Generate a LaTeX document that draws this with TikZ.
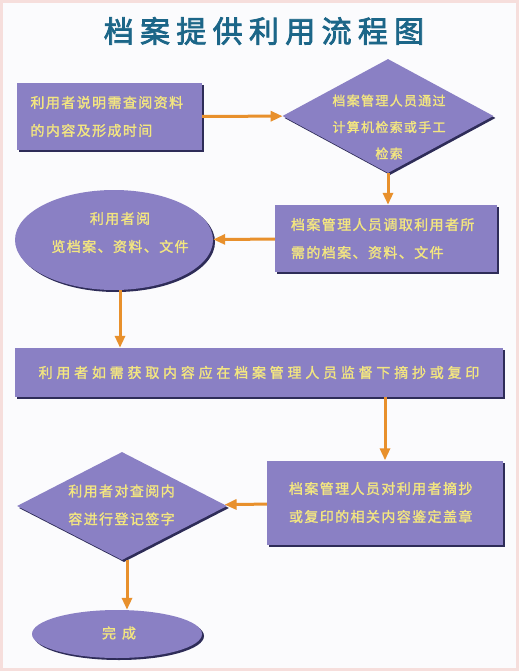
\documentclass[tikz,border=0pt]{standalone}
\usepackage{fontspec}
\usetikzlibrary{shapes.geometric,arrows.meta,shadows}
\newfontfamily\cjk{Noto Sans CJK SC}[LetterSpace=10, FakeBold=1.6]
\newfontfamily\cjkwide{Noto Sans CJK SC}[LetterSpace=27, FakeBold=1.6]
\newfontfamily\cjktitle{Noto Sans CJK SC}[LetterSpace=21, FakeBold=2.5]
\definecolor{boxfill}{HTML}{8A80C4}
\definecolor{boxedge}{HTML}{2E2C58}
\definecolor{wordcol}{HTML}{F3E680}
\definecolor{flowcol}{HTML}{E8902C}
\definecolor{titlecol}{HTML}{1C6688}
\definecolor{bgcol}{HTML}{FBFBFD}
\definecolor{rimcol}{HTML}{F6DEDC}

\begin{document}
\begin{tikzpicture}[x=1pt,y=-1pt,
  shape base/.style={fill=boxfill, inner sep=0pt,
    drop shadow={shadow xshift=2pt, shadow yshift=-2pt, fill=boxedge, opacity=1}},
  box/.style={shape base, rectangle},
  oval/.style={shape base, ellipse},
  rhomb/.style={shape base, diamond},
  words/.style={text=wordcol, font=\cjk\fontsize{14}{28}\selectfont, align=left},
  flow/.style={draw=flowcol, line width=3pt, -{Triangle[length=12pt,width=10pt]}}]
  \fill[bgcol] (0,0) rectangle (519,671);
  \draw[rimcol, line width=3pt] (1.5,1.5) rectangle (517.5,669.5);
  \node[text=titlecol, font=\cjktitle\fontsize{30}{30}\selectfont] (title) at (264,31) {档案提供利用流程图};
  \node[box, minimum width=185, minimum height=67, words, text width=158pt] (need) at (109.5,116.5) {利用者说明需查阅资料\\的内容及形成时间};
  \node[rhomb, minimum width=211, minimum height=114] (check) at (388,116) {};
  \node[words, align=center, font=\cjk\fontsize{13}{26.5}\selectfont] (checktext) at (389,127) {档案管理人员通过\\计算机检索或手工\\检索};
  \node[box, minimum width=222, minimum height=67, words, text width=190pt] (fetch) at (386,238.5) {档案管理人员调取利用者所\\需的档案、资料、文件};
  \node[oval, minimum width=198, minimum height=100] (read) at (114,240) {};
  \node[words, align=center] (readtext) at (120,232.5) {利用者阅\\览档案、资料、文件};
  \node[box, minimum width=488, minimum height=49, words, font=\cjkwide\fontsize{14}{28}\selectfont] (copy) at (259,372.5) {利用者如需获取内容应在档案管理人员监督下摘抄或复印};
  \node[box, minimum width=236, minimum height=84, words, text width=192pt] (seal) at (385,502.5) {档案管理人员对利用者摘抄\\或复印的相关内容鉴定盖章};
  \node[rhomb, minimum width=210, minimum height=108] (sign) at (122,506) {};
  \node[words, align=center] (signtext) at (121.5,505) {利用者对查阅内\\容进行登记签字};
  \node[oval, minimum width=170, minimum height=48] (done) at (117,634) {};
  \node[words] (donetext) at (119,633) {完\hspace{6pt}成};
  \draw[flow] (need) -- (check);
  \draw[flow] (check.south) -- (check.south |- fetch.north);
  \draw[flow] (fetch) -- (read);
  \draw[flow] ([xshift=6pt]read.south) -- ([xshift=6pt]read.south |- copy.north);
  \draw[flow] (copy.south -| seal.north) -- (seal.north);
  \draw[flow] (seal) -- (sign);
  \draw[flow] ([xshift=5pt]sign.south) -- ([xshift=5pt]sign.south |- done.north);
\end{tikzpicture}
\end{document}
